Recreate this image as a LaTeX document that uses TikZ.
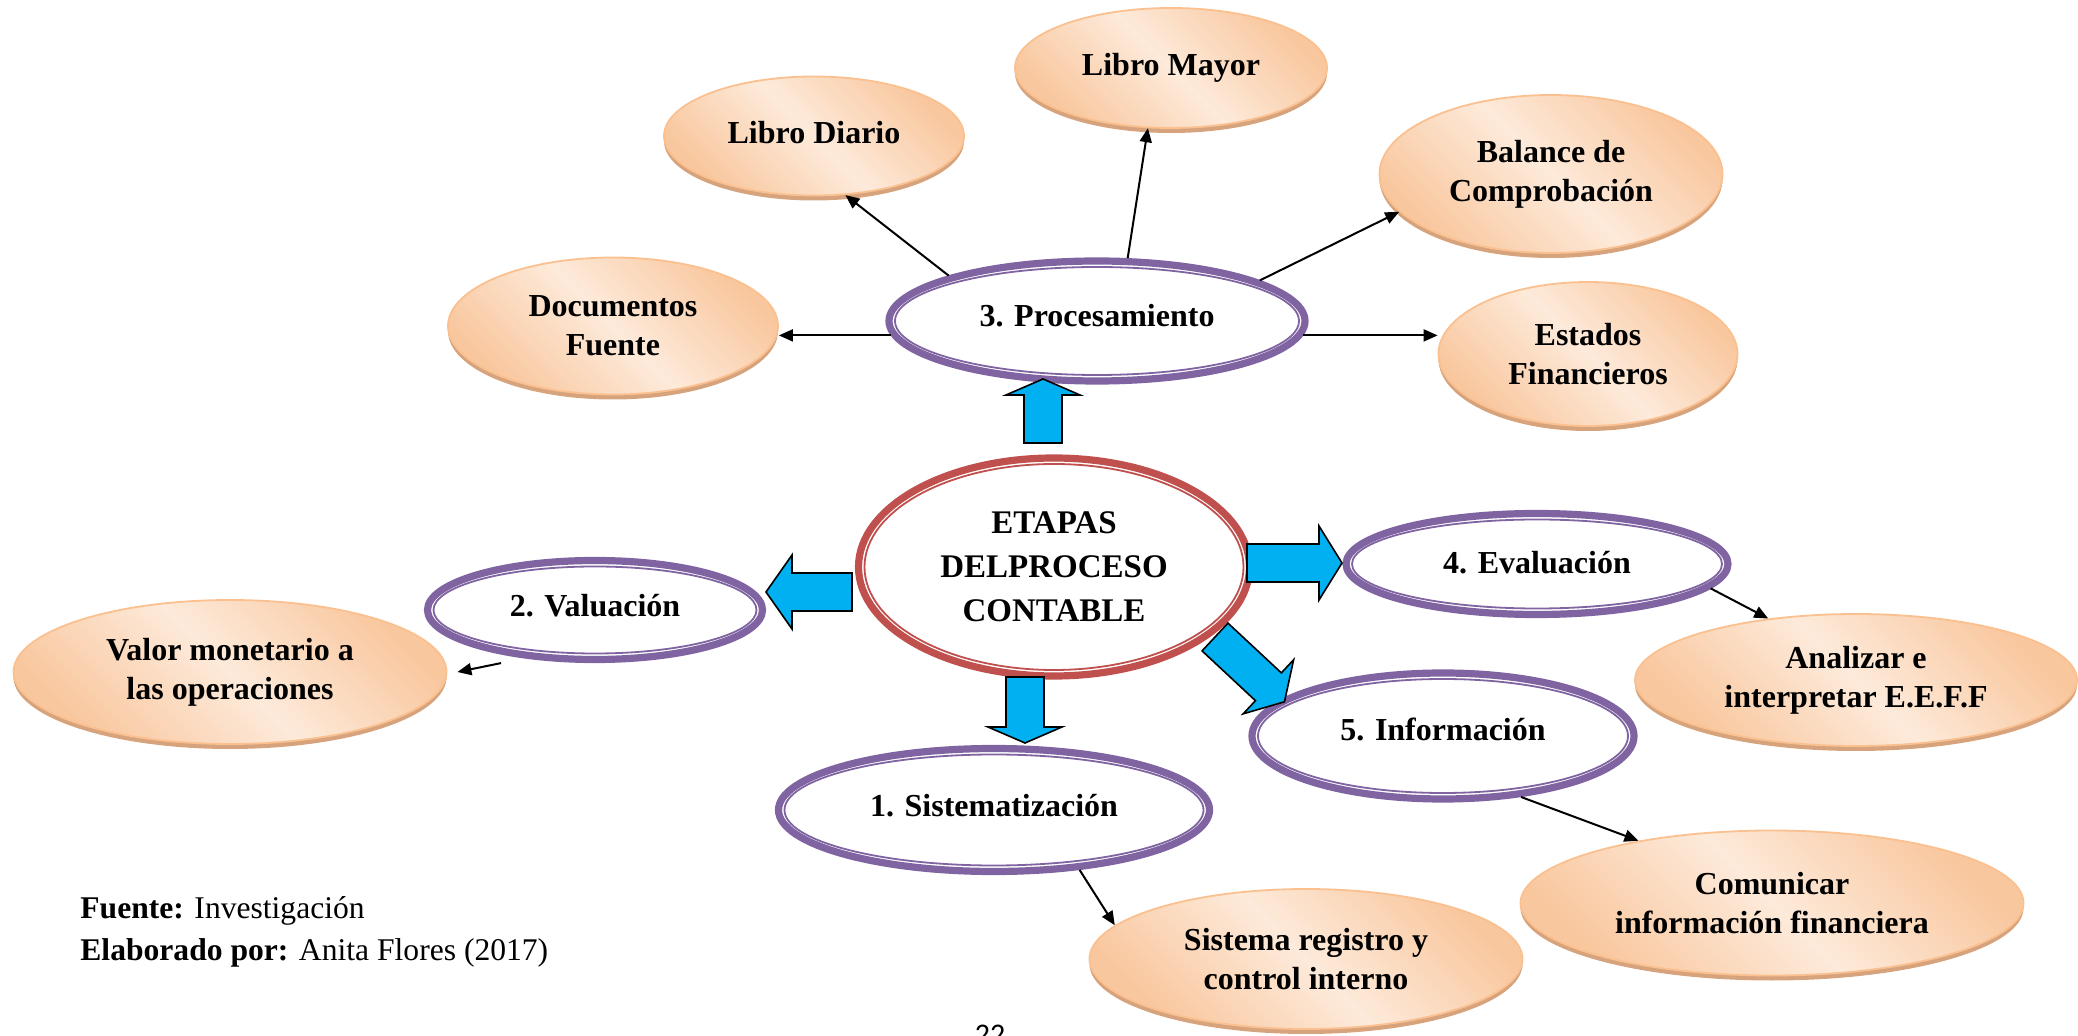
\documentclass[tikz,border=0pt]{standalone}
\usepackage{fontspec}
\setmainfont{Liberation Serif}
\newfontfamily\pagefont{Carlito}
\usetikzlibrary{shapes.geometric, arrows.meta, calc}

\definecolor{stagepurple}{RGB}{128,100,162}
\definecolor{stagered}{RGB}{192,80,77}
\definecolor{arrowblue}{RGB}{0,176,240}
\definecolor{peachline}{RGB}{250,192,143}
\definecolor{peachdark}{RGB}{249,199,158}
\definecolor{peachlight}{RGB}{253,234,218}
\definecolor{peachshadow}{RGB}{214,163,124}

\newcommand{\labelfont}{\fontsize{16}{19.5}\selectfont\bfseries}
\newcommand{\bigfont}{\fontsize{16.5}{22}\selectfont\bfseries}
\newcommand{\notefont}{\fontsize{15.8}{18}\selectfont}

\tikzset{
  peach/.style={ellipse, draw=peachline, line width=0.9pt,
    left color=peachdark, right color=peachdark, middle color=peachlight, shading angle=135,
    preaction={fill=peachshadow, transform canvas={yshift=-2.5pt}},
    align=center, inner sep=0pt, font=\labelfont},
  stage/.style={ellipse, draw=stagepurple, line width=3.6pt, fill=white,
    align=center, inner sep=0pt, font=\labelfont},
  ring/.style={ellipse, draw=#1, line width=0.9pt, inner sep=0pt},
  link/.style={line width=1pt, -{Triangle[length=7pt,width=6pt]}},
  barrow/.style={fill=arrowblue, draw=black, line width=0.8pt, line join=miter},
}

% block arrow: tail x, tail y, angle, length, head length
\newcommand{\blockarrow}[5]{%
  \draw[barrow, shift={(#1,#2)}, rotate=#3] (0,-19) -- ({#4-#5},-19) -- ({#4-#5},-37) -- (#4,0)
    -- ({#4-#5},37) -- ({#4-#5},19) -- (0,19) -- cycle;}

\begin{document}
\begin{tikzpicture}[x=0.5pt,y=0.5pt,yscale=-1,xscale=1]
    \useasboundingbox (0,0) rectangle (2078,1036);

    % Text Node
    \node[peach, minimum width=156pt, minimum height=60pt] (mayor) at (1171,68) {\raisebox{3pt}{Libro Mayor}};
    % Text Node
    \node[peach, minimum width=150pt, minimum height=59.5pt] (diario) at (814,136) {\raisebox{4pt}{Libro Diario}};
    % Text Node
    \node[peach, minimum width=171.5pt, minimum height=79pt] (balance) at (1551,174) {Balance de\\Comprobación};
    % Text Node
    \node[peach, minimum width=165pt, minimum height=68.5pt] (docs) at (613,326) {Documentos\\Fuente};
    % Text Node
    \node[peach, minimum width=149.5pt, minimum height=72pt] (estados) at (1588,354) {Estados\\Financieros};
    % Text Node
    \node[peach, minimum width=216.5pt, minimum height=72pt] (valor) at (230,672) {Valor monetario a\\las operaciones};
    % Text Node
    \node[peach, minimum width=221pt, minimum height=66pt] (analizar) at (1856,680) {Analizar e\\interpretar E.E.F.F};
    % Text Node
    \node[peach, minimum width=251.5pt, minimum height=72.5pt] (comunicar) at (1772,903) {Comunicar\\información financiera};
    % Text Node
    \node[peach, minimum width=216.5pt, minimum height=70pt] (registro) at (1306,959) {Sistema registro y\\control interno};

    % Stages
    \node[stage, minimum width=208pt, minimum height=60pt] (proc) at (1097,321) {\raisebox{6pt}{3. Procesamiento}};
    \node[stage, minimum width=167.5pt, minimum height=49.5pt] (val) at (595,610) {\raisebox{4.5pt}{2. Valuación}};
    \node[stage, minimum width=191pt, minimum height=50.5pt] (eval) at (1537,564) {\raisebox{1.5pt}{4. Evaluación}};
    \node[stage, minimum width=191pt, minimum height=63pt] (info) at (1443,736) {\raisebox{7pt}{5. Información}};
    \node[stage, minimum width=215.5pt, minimum height=61.5pt] (sist) at (994,810) {\raisebox{4.5pt}{1. Sistematización}};
    \node[stage, draw=stagered, minimum width=195.5pt, minimum height=109pt, font=\bigfont] (etapas) at (1054,567) {ETAPAS\\DELPROCESO\\CONTABLE};
    % inner rings
    \node[ring=stagepurple, minimum width=202pt, minimum height=54pt] (procring) at (proc) {};
    \node[ring=stagepurple, minimum width=161.5pt, minimum height=43.5pt] (valring) at (val) {};
    \node[ring=stagepurple, minimum width=185pt, minimum height=44.5pt] (evalring) at (eval) {};
    \node[ring=stagepurple, minimum width=185pt, minimum height=57pt] (inforing) at (info) {};
    \node[ring=stagepurple, minimum width=209.5pt, minimum height=55.5pt] (sistring) at (sist) {};
    \node[ring=stagered, minimum width=189.5pt, minimum height=103pt] (etapasring) at (etapas) {};

    % Connection
    \draw[link] (proc.163) -- (diario.-62);
    \draw[link] (proc.64) -- (mayor.-111);
    \draw[link] (proc.14) -- (balance.-166);
    \draw[link] (proc.184) -- (proc.184 -| docs.east);
    \draw[link] (proc.-4) -- (proc.-4 -| estados.west);
    \draw[link] ([xshift=-47pt]val.south) -- ([xshift=5pt]valor.east);
    \draw[link] (eval.-8) -- (analizar.145);
    \draw[link] (info.-38) -- (comunicar.155);
    \draw[link] (sist.-35) -- (registro.170);

    % Block arrows
    \blockarrow{1043}{443}{-90}{64}{16}
    \blockarrow{1025}{677}{90}{66}{16}
    \blockarrow{852}{592}{180}{86}{26}
    \blockarrow{1247}{563}{0}{95}{23}
    \blockarrow{1215}{637}{43}{95}{22}

    % Text Node
    \node[anchor=base west, inner sep=0pt, font=\notefont] (fuente) at (80,919) {\textbf{Fuente:} Investigación};
    \node[anchor=base west, inner sep=0pt, font=\notefont] (elaborado) at (80,960) {\textbf{Elaborado por:} Anita Flores (2017)};
    \node[anchor=north, font=\pagefont\fontsize{15}{18}\selectfont] (pagenum) at (990,1018) {22};
\end{tikzpicture}
\end{document}
